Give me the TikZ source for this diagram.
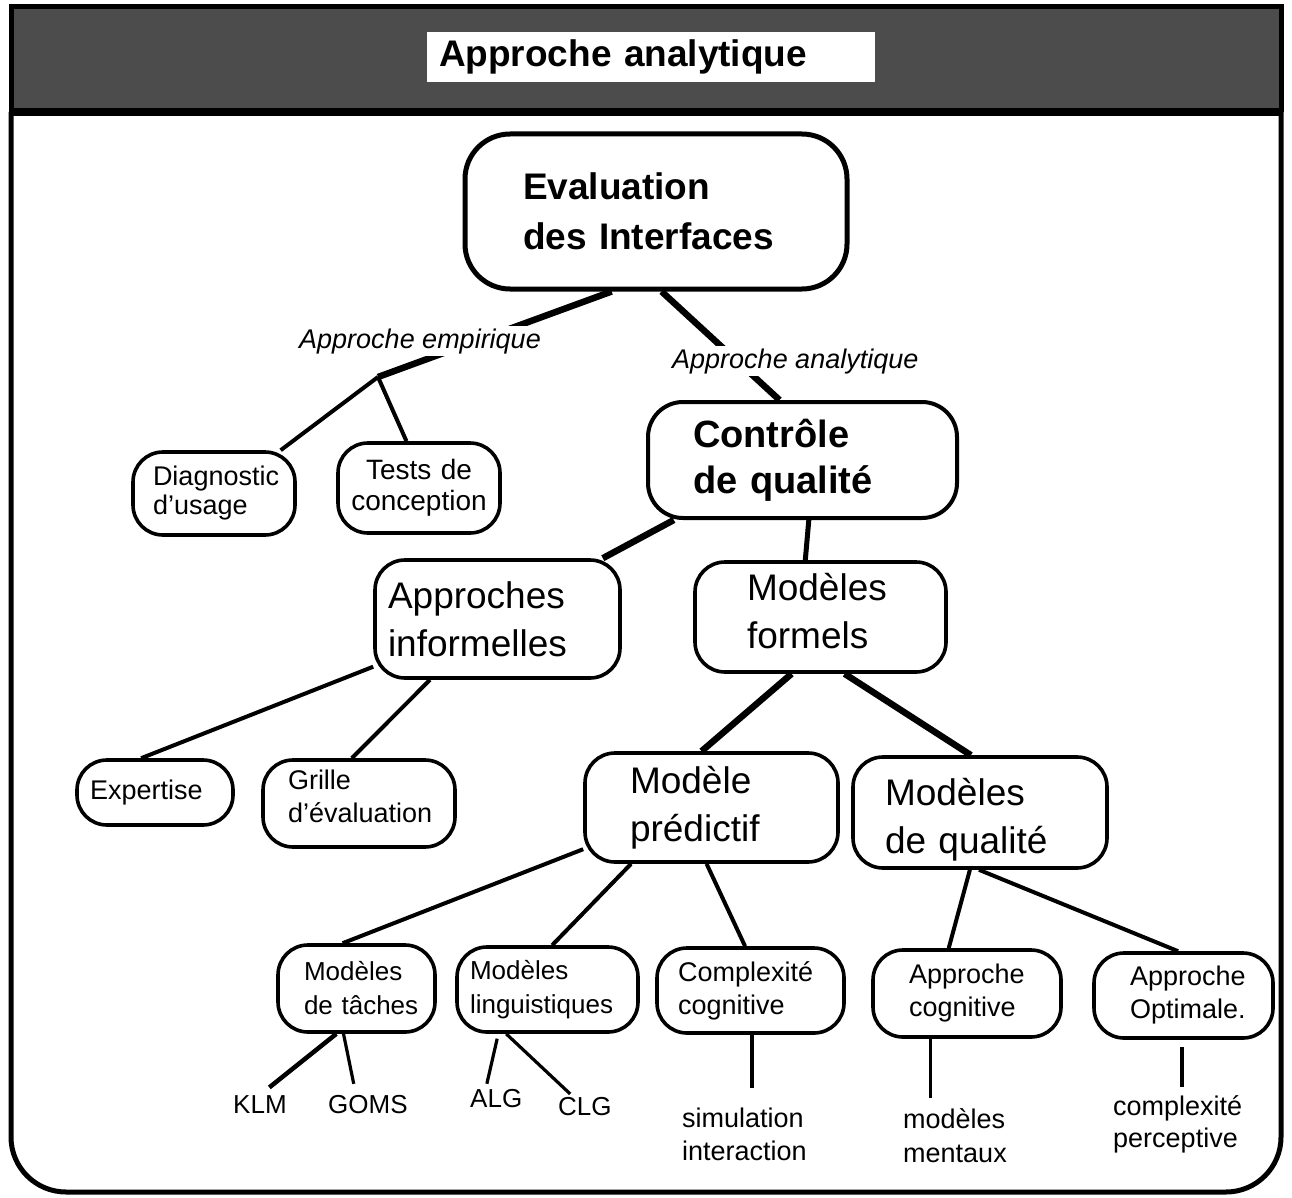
\documentclass[tikz,border=0pt]{standalone}
\usepackage{fontspec}
\setmainfont{Liberation Sans}
\usetikzlibrary{calc}
\newcommand\fsz[2]{\fontsize{#1}{#2}\selectfont}
\tikzset{
  bx/.style={draw, fill=white, line width=3.6pt, rounded corners=28pt, inner ysep=0pt, align=left},
  tconn/.style={line width=6.5pt},
  conn/.style={line width=4pt},
  lconn/.style={line width=3.2pt},
  leaf/.style={inner sep=0pt, align=left, anchor=north west},
  word/.style={inner sep=0pt, anchor=base west, font=\fsz{26}{30}},
  elab/.style={fill=white, inner sep=2pt, anchor=base west, font=\itshape\fsz{27}{30}},
}
\begin{document}
\begin{tikzpicture}[x=1pt,y=-1pt]
\useasboundingbox (0,0) rectangle (1292,1198);
% frame and header band
\fill[black!70] (11,7) rectangle (1281,112);
\draw[line width=5pt] (11,112) -- (11,7) -- (1281,7) -- (1281,112);
\draw[line width=5pt, rounded corners=55pt] (11,112) -- (11,1192) -- (1281,1192) -- (1281,112);
\draw[line width=8pt] (9,112) -- (1283,112);
\node[fill=white, minimum width=448pt, minimum height=50pt, inner ysep=0pt, inner xsep=12pt,
      text width=424pt, align=left, font=\bfseries\fsz{37}{40}] (title) at (651,57) {Approche analytique};

% boxes
\node[bx, line width=5pt, rounded corners=45pt, minimum width=382pt, minimum height=155pt,
      inner xsep=58pt, text width=266pt, font=\bfseries\fsz{37}{50}] (eval) at (656,211.5) {Evaluation\\des Interfaces};
\node[bx, line width=4pt, rounded corners=35pt, minimum width=309pt, minimum height=116pt,
      inner xsep=45pt, text width=219pt, font=\bfseries\fsz{38}{46}] (ctrl) at (802.5,460) {Contrôle\\de qualité};
\node[bx, rounded corners=30pt, minimum width=162pt, minimum height=83pt, inner xsep=20pt, text width=122pt,
      font=\fsz{27}{29}] (diag) at (214,493.5) {Diagnostic\\d'usage};
\node[bx, rounded corners=30pt, minimum width=162pt, minimum height=90pt, inner xsep=0pt, text width=162pt,
      align=center, font=\fsz{28}{31}] (tests) at (419,488) {Tests de\\conception};
\node[bx, rounded corners=30pt, minimum width=245pt, minimum height=118pt, inner xsep=13pt, text width=219pt,
      font=\fsz{37}{48}] (info) at (497.5,619) {Approches\\informelles};
\node[bx, rounded corners=30pt, minimum width=251pt, minimum height=110pt, inner xsep=52pt, text width=147pt,
      font=\fsz{37}{48}] (formels) at (820.5,617) {Modèles\\formels\rule[-12pt]{0pt}{0pt}};
\node[bx, rounded corners=30pt, minimum width=156pt, minimum height=65pt, inner xsep=13pt, text width=130pt,
      font=\fsz{27}{33}] (expertise) at (155,792.5) {Expertise};
\node[bx, rounded corners=30pt, minimum width=192pt, minimum height=87pt, inner xsep=25pt, text width=142pt,
      font=\fsz{27}{33}] (grille) at (359,803.5) {Grille\\d'évaluation\rule[-14pt]{0pt}{0pt}};
\node[bx, rounded corners=30pt, minimum width=253pt, minimum height=109pt, inner xsep=45pt, text width=163pt,
      font=\fsz{37}{48}] (predictif) at (711.5,807.5) {Modèle\\prédictif};
\node[bx, rounded corners=30pt, minimum width=254pt, minimum height=111pt, inner xsep=32pt, text width=190pt,
      font=\fsz{37}{48}] (qualite) at (980,812.5) {\rule{0pt}{41pt}Modèles\\de qualité};
\node[bx, rounded corners=30pt, minimum width=157pt, minimum height=87pt, inner xsep=26pt, text width=105pt,
      font=\fsz{26}{34}] (taches) at (356.5,988.5) {Modèles\\\mbox{de tâches}};
\node[bx, rounded corners=30pt, minimum width=181pt, minimum height=85pt, inner xsep=13pt, text width=155pt,
      font=\fsz{26}{34}] (ling) at (547.5,989.5) {Modèles\\linguistiques};
\node[bx, rounded corners=30pt, minimum width=187pt, minimum height=85pt, inner xsep=21pt, text width=145pt,
      font=\fsz{27}{33}] (complex) at (750.5,990.5) {Complexité\\cognitive};
\node[bx, rounded corners=30pt, minimum width=188pt, minimum height=87pt, inner xsep=36pt, text width=116pt,
      font=\fsz{27}{33}] (appcog) at (967,993.5) {Approche\\cognitive};
\node[bx, rounded corners=30pt, minimum width=179pt, minimum height=85pt, inner xsep=36pt, text width=107pt,
      font=\fsz{27}{33}] (appopt) at (1183.5,995.5) {Approche\\Optimale.};

% leaves
\node[word] (klm) at (233,1113) {KLM};
\node[word] (goms) at (328,1113) {GOMS};
\node[word] (alg) at (470,1107) {ALG};
\node[word] (clg) at (558,1115) {CLG};
\node[leaf, font=\fsz{27}{33}] (sim) at (682,1107.5) {simulation\\interaction};
\node[leaf, font=\fsz{27}{34}] (ment) at (903,1108.5) {modèles\\mentaux};
\node[leaf, font=\fsz{27}{32}] (perc) at (1113,1095) {complexité\\perceptive};

\coordinate (emp) at (378,377);

% connectors
\draw[tconn] (eval.241) -- (emp);
\draw[conn] (emp) -- (diag.33);
\draw[conn] (emp) -- (tests.105);
\draw[tconn] (eval.274) -- (ctrl.111);
\draw[tconn] (ctrl.205) -- (info.30);
\draw[line width=5pt] (ctrl.276) -- (formels.105);
\draw[conn] (info.201) -- (expertise.112);
\draw[conn] (info.222) -- (grille.99);
\draw[tconn] (formels.243) -- (predictif.100);
\draw[tconn] (formels.293) -- (qualite.99);
\draw[conn] (predictif.198) -- (taches.107);
\draw[conn] (predictif.215) -- (ling.84);
\draw[conn] (predictif.265) -- (complex.97);
\draw[conn] (qualite.260) -- (appcog.112);
\draw[conn] (qualite.269) -- (appopt.97);
\draw[lconn, line width=4.5pt, shorten >=12pt] (taches.246) -- (klm.north);
\draw[lconn, shorten >=11pt] (taches.254) -- ($(goms.north west)!.35!(goms.north east)$);
\draw[lconn, shorten <=5pt, shorten >=5pt] (ling.222) -- ($(alg.north west)!.3!(alg.north east)$);
\draw[lconn, shorten >=4pt] (ling.227) -- ($(clg.north west)!.28!(clg.north east)$);
\draw[lconn, shorten >=20pt] (complex.272) -- (complex.272 |- sim.north);
\draw[lconn, shorten >=11pt] (appcog.231) -- (appcog.231 |- ment.north);
\draw[lconn, shorten <=7pt, shorten >=8pt] (appopt.268) -- (appopt.268 |- perc.north);

% edge labels
\node[elab] (emplab) at (297,348) {Approche empirique};
\node[elab] (analab) at (670,368) {Approche analytique};
\end{tikzpicture}
\end{document}
